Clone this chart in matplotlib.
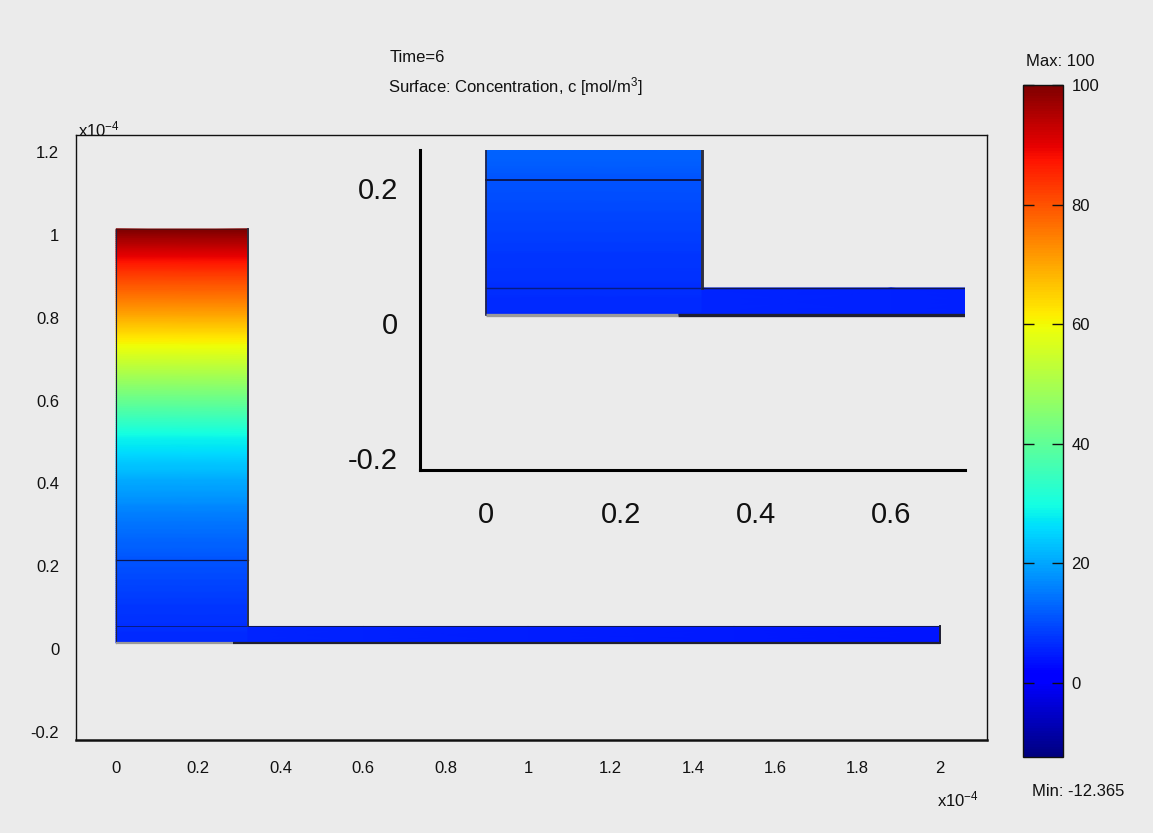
import numpy as np
import matplotlib
matplotlib.use("Agg")
import matplotlib.pyplot as plt
from matplotlib.transforms import ScaledTranslation
from matplotlib.cm import ScalarMappable
from matplotlib.colors import Normalize

# ---------------- data (lengths in units of 1e-4 m) ----------------
well_width = 0.32
well_height = 1.0
channel_end = 2.0
channel_height = 0.04
inner_line_y = 0.2
gray_bottom_end = 0.285

# concentration along the height of the well
well_y = [0.0, 0.1, 0.2, 0.3, 0.4, 0.5, 0.6, 0.7, 0.8, 0.9, 1.0]
well_c = [6, 8, 11, 15, 21, 29, 43, 57, 71, 84, 100]

# concentration along the channel
channel_x = [0.32, 0.6, 1.0, 1.5, 2.0]
channel_c = [6, 5.5, 5, 4.5, 4]

c_min, c_max = -12.365, 100.0

main_xticks = [0, 0.2, 0.4, 0.6, 0.8, 1, 1.2, 1.4, 1.6, 1.8, 2]
main_xlabels = ["0", "0.2", "0.4", "0.6", "0.8", "1", "1.2", "1.4", "1.6", "1.8", "2"]
main_yticks = [-0.2, 0, 0.2, 0.4, 0.6, 0.8, 1, 1.2]
main_ylabels = ["-0.2", "0", "0.2", "0.4", "0.6", "0.8", "1", "1.2"]
inset_xticks = [0, 0.2, 0.4, 0.6]
inset_xlabels = ["0", "0.2", "0.4", "0.6"]
inset_yticks = [-0.2, 0, 0.2]
inset_ylabels = ["-0.2", "0", "0.2"]
cbar_ticks = [0, 20, 40, 60, 80, 100]

title_lines = ["Time=6", "Surface: Concentration, c [mol/m$^3$]"]

# ---------------- figure ----------------
W, H = 1153, 833
BG = "#ebebeb"
FONT = "Liberation Sans"
plt.rcParams["font.family"] = [FONT, "DejaVu Sans"]
plt.rcParams["mathtext.fontset"] = "custom"
plt.rcParams["mathtext.rm"] = FONT
plt.rcParams["mathtext.it"] = FONT

fig = plt.figure(figsize=(W / 100, H / 100), dpi=100, facecolor=BG)


def px_axes(left, top, right, bottom):
    return fig.add_axes([left / W, 1 - bottom / H, (right - left) / W, (bottom - top) / H])


cmap = plt.get_cmap("jet")
norm = Normalize(vmin=c_min, vmax=c_max)


def draw_geometry(ax, lw_scale=1.0):
    # well field
    ys = np.linspace(0, well_height, 200)
    xs = np.array([0.0, well_width])
    X, Y = np.meshgrid(xs, ys)
    C = np.interp(Y, well_y, well_c)
    ax.pcolormesh(X, Y, C, cmap=cmap, norm=norm, shading="gouraud", zorder=1)
    # channel field
    cx = np.array(channel_x)
    cy = np.array([0.0, channel_height])
    CX, CY = np.meshgrid(cx, cy)
    CC = np.tile(np.array(channel_c), (2, 1))
    ax.pcolormesh(CX, CY, CC, cmap=cmap, norm=norm, shading="gouraud", zorder=1)
    # internal lines
    navy = "#0a1650"
    ax.plot([0, well_width], [inner_line_y, inner_line_y], color=navy, lw=0.9 * lw_scale, zorder=3)
    ax.plot([0, well_width], [channel_height, channel_height], color=navy, lw=0.7 * lw_scale, alpha=0.7, zorder=3)
    # outline
    ax.plot([0, 0], [0, well_height], color="#202040", lw=0.8 * lw_scale, zorder=3)
    ax.plot([0, well_width], [well_height, well_height], color="#501010", lw=0.6 * lw_scale, zorder=3)
    ax.plot([well_width, well_width], [well_height, channel_height], color="#303040", lw=1.4 * lw_scale, zorder=3)
    ax.plot([well_width, channel_end], [channel_height, channel_height], color="#101850", lw=0.7 * lw_scale, zorder=3)
    ax.plot([channel_end, channel_end], [channel_height, 0], color="#202030", lw=1.4 * lw_scale, zorder=3)
    ax.plot([0, gray_bottom_end], [0, 0], color="#9a9a9a", lw=1.6 * lw_scale, zorder=3,
            solid_capstyle="butt")
    ax.plot([gray_bottom_end, channel_end], [0, 0], color="#202030", lw=1.6 * lw_scale, zorder=3,
            solid_capstyle="butt")


# ---- main axes ----
ax = px_axes(76, 135, 987, 740)
ax.set_facecolor(BG)
draw_geometry(ax)
ax.set_xlim(-40 / 412, 871 / 412)
ax.set_ylim(-97 / 414, 508 / 414)
ax.set_xticks(main_xticks)
ax.set_xticklabels(main_xlabels)
ax.set_yticks(main_yticks)
ax.set_yticklabels(main_ylabels)
ax.tick_params(length=0, labelsize=12, colors="#111111")
ax.tick_params(axis="x", pad=15)
ax.tick_params(axis="y", pad=12)
off = ScaledTranslation(0, -6 / 100, fig.dpi_scale_trans)
for lab in ax.get_yticklabels():
    lab.set_transform(lab.get_transform() + off)
for s in ax.spines.values():
    s.set_linewidth(1.0)
    s.set_color("#111111")
ax.spines["bottom"].set_linewidth(1.8)

# ---- inset ----
sc = 675.0
ins = px_axes(420, 150, 965, 470)
ins.set_facecolor(BG)
ins.patch.set_alpha(1.0)
draw_geometry(ins, lw_scale=1.5)
ins.set_xlim((420 - 486) / sc, (965 - 486) / sc)
ins.set_ylim((315 - 470) / sc, (315 - 150) / sc)
ins.set_xticks(inset_xticks)
ins.set_xticklabels(inset_xlabels)
ins.set_yticks(inset_yticks)
ins.set_yticklabels(inset_ylabels)
ins.tick_params(length=0, labelsize=21, colors="#111111")
ins.tick_params(axis="x", pad=22)
ins.tick_params(axis="y", pad=16)
off2 = ScaledTranslation(0, -8 / 100, fig.dpi_scale_trans)
for lab in ins.get_yticklabels():
    lab.set_transform(lab.get_transform() + off2)
ins.spines["top"].set_visible(False)
ins.spines["right"].set_visible(False)
ins.spines["left"].set_linewidth(2.2)
ins.spines["bottom"].set_linewidth(2.2)
ins.spines["left"].set_color("black")
ins.spines["bottom"].set_color("black")

# ---- colorbar ----
cax = px_axes(1023, 85, 1063, 757)
sm = ScalarMappable(norm=norm, cmap=cmap)
cb = fig.colorbar(sm, cax=cax, ticks=cbar_ticks)
cb.outline.set_linewidth(1.0)
cb.outline.set_edgecolor("#111111")
cax.tick_params(left=True, right=True, direction="in", length=8, width=1,
                labelleft=False, labelright=True, labelsize=12, pad=6, colors="#111111")
cax.set_yticklabels([str(t) for t in cbar_ticks])

# ---- texts ----
fig.text(390 / W, 1 - 57 / H, title_lines[0], fontsize=12, ha="left", va="center", color="#111111")
fig.text(388 / W, 1 - 87 / H, title_lines[1], fontsize=12, ha="left", va="center", color="#111111")
fig.text(1060 / W, 1 - 61 / H, "Max: 100", fontsize=12, ha="center", va="center", color="#111111")
fig.text(1078 / W, 1 - 791 / H, "Min: -12.365", fontsize=12, ha="center", va="center", color="#111111")
fig.text(78 / W, 1 - 129 / H, "x10$^{-4}$", fontsize=12, ha="left", va="center", color="#111111")
fig.text(937 / W, 1 - 799 / H, "x10$^{-4}$", fontsize=12, ha="left", va="center", color="#111111")

fig.savefig("out.png", dpi=100, facecolor=BG)
